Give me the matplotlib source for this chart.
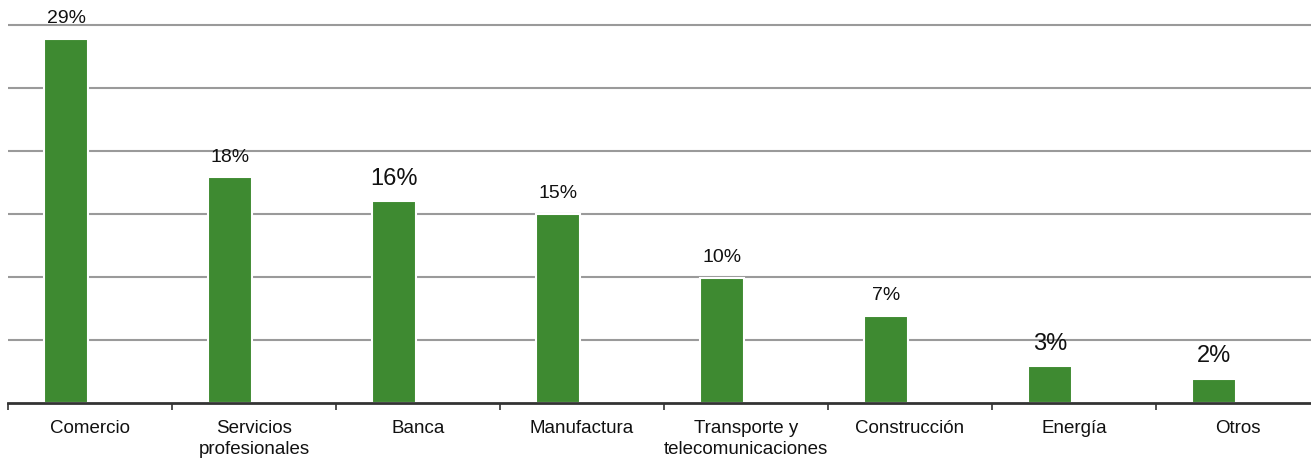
import matplotlib
matplotlib.use("Agg")
import matplotlib.pyplot as plt
import numpy as np

categories = ["Comercio", "Servicios\nprofesionales", "Banca", "Manufactura",
              "Transporte y\ntelecomunicaciones", "Construcción", "Energía", "Otros"]
values = [28.9, 17.9, 16.0, 15.0, 9.9, 6.9, 2.9, 1.9]
labels = ["29%", "18%", "16%", "15%", "10%", "7%", "3%", "2%"]
label_sizes = [14, 14, 17, 14, 14, 14, 17, 17]

plt.rcParams['font.family'] = ['Liberation Sans', 'DejaVu Sans']

W, H = 1311, 458
fig = plt.figure(figsize=(W / 100, H / 100), dpi=100)
ytop = 30.2
px_per_unit = 378 / 30
left = 8 / W
bottom = (H - 403) / H
top = (H - 403 + ytop * px_per_unit) / H
ax = fig.add_axes([left, bottom, 1312 / W, top - bottom])

x = np.arange(len(categories))
bar_w = 0.27
offset = -0.146
bars = ax.bar(x + offset, values, width=bar_w, color="#3e8a31",
              edgecolor="white", linewidth=1.5, zorder=3)

for xi, v, lab, fs in zip(x, values, labels, label_sizes):
    ax.annotate(lab, (xi + offset, v), xytext=(0, 8.5), textcoords="offset points",
                ha="center", va="bottom", fontsize=fs, color="#111111", zorder=4)

ax.set_xlim(-0.5, len(categories) - 0.5)
ax.set_ylim(0, ytop)
ax.set_yticks(np.arange(5, 31, 5))
ax.yaxis.grid(True, color="#9a9a9a", linewidth=1.5, zorder=0)
ax.set_axisbelow(True)
ax.tick_params(axis="y", left=False, labelleft=False)

ax.set_xticks(x)
ax.set_xticklabels(categories, fontsize=13.5, color="#111111", linespacing=1.3)
ax.tick_params(axis="x", which="major", length=0, pad=12.5)
ax.set_xticks(np.arange(-0.5, len(categories), 1), minor=True)
ax.tick_params(axis="x", which="minor", length=5, width=1.2, color="#333333", direction="out")

for s in ["left", "right", "top"]:
    ax.spines[s].set_visible(False)
ax.spines["bottom"].set_color("#333333")
ax.spines["bottom"].set_linewidth(2)
ax.spines["bottom"].set_zorder(5)

fig.savefig("out.png", dpi=100)
